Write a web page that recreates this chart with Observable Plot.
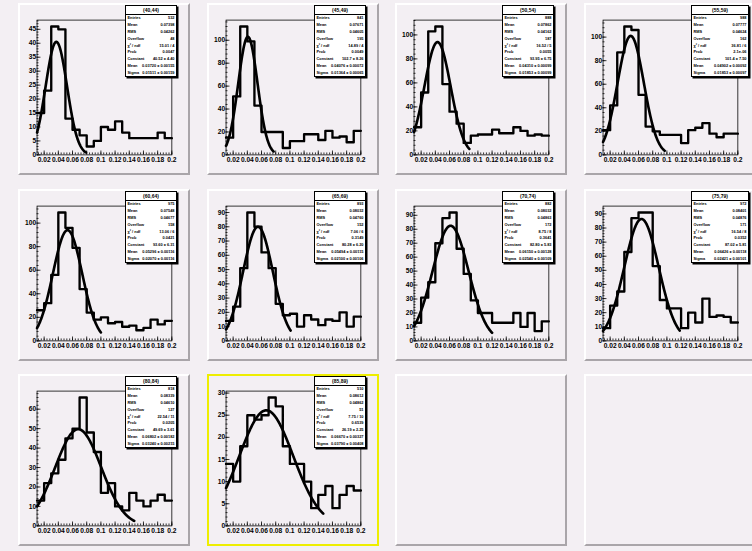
<!DOCTYPE html>
<html><head><meta charset="utf-8">
<script src="https://cdn.jsdelivr.net/npm/d3@7"></script>
<script src="https://cdn.jsdelivr.net/npm/@observablehq/plot@0.6"></script>
<style>
html,body{margin:0;padding:0;background:#f3eff3;}
#canvas{position:relative;width:752px;height:551px;overflow:hidden;background:#f3eff3;font-family:"Liberation Sans",Arial,sans-serif;}
.pad{position:absolute;width:172px;height:172px;box-sizing:border-box;border-top:2px solid #ffffff;border-left:2px solid #ffffff;border-right:2px solid #a9a5a9;border-bottom:2px solid #a9a5a9;background:#f3eff3;}
.pad.sel{border:2px solid #eeee00;}
.pad svg{position:absolute;left:-2px;top:-2px;overflow:visible;}
.stats{position:absolute;top:0;background:#fff;border:1px solid #000;box-shadow:1.5px 1.5px 0 #000;box-sizing:border-box;font-weight:bold;color:#000;}
.stats .t{height:8px;line-height:8px;text-align:center;font-size:5px;border-bottom:1px solid #000;}
.stats .r{display:flex;justify-content:space-between;height:6.9px;line-height:6.9px;font-size:3.9px;padding:0 1.5px;white-space:nowrap;}
</style></head>
<body><div id="canvas"></div>
<script>
// ---- data ----
const titles = ["(40,44)","(45,49)","(50,54)","(55,59)","(60,64)","(65,69)","(70,74)","(75,79)","(80,84)","(85,89)"];
const binLow = [0.01,0.02,0.03,0.04,0.05,0.06,0.07,0.08,0.09,0.10,0.11,0.12,0.13,0.14,0.15,0.16,0.17,0.18,0.19];
const xEnd = 0.2;
const c40 = [15,23,46,45,13,9,7,3,5,10,9,12,8,6,6,6,6,8,6];
const c45 = [15,51,112,99,43,20,20,20,6,12,12,18,18,13,21,15,16,11,21];
const c50 = [23,52,103,107,59,36,26,10,16,17,17,21,18,18,23,20,16,17,16];
const c55 = [21,42,87,109,106,51,24,20,17,17,17,10,21,23,27,18,15,18,18];
const c60 = [26,32,56,109,96,79,44,24,18,20,15,16,12,13,9,11,18,14,17];
const c65 = [14,24,51,90,80,62,51,26,18,19,10,18,15,11,15,14,20,10,17];
const c70 = [13,31,42,70,88,92,66,48,29,20,20,13,13,13,20,10,20,7,14];
const c75 = [9,25,35,63,87,91,91,53,29,23,23,9,20,13,30,17,18,17,13];
const c80 = [13,22,27,34,45,50,66,48,38,17,22,10,8,17,13,10,13,16,13];
const c85 = [14,10,18,25,24,25,29,27,18,14,14,10,4,7,9,4,7,9,8];
const counts = [c40,c45,c50,c55,c60,c65,c70,c75,c80,c85];
// Gaussian fit parameters: constant, mean, sigma, fit range end
const fitConst = [40.5,103,94,101,94,80,82.5,86.4,49.7,26.1];
const fitMean  = [0.0372,0.0408,0.0431,0.049,0.053,0.055,0.0615,0.0642,0.068,0.0667];
const fitSigma = [0.0151,0.0136,0.0185,0.0185,0.0207,0.021,0.0254,0.0242,0.0324,0.0379];
const fitHi    = [0.079,0.077,0.088,0.097,0.100,0.101,0.120,0.118,0.147,0.147];
// axis ticks
const xTicks = [0.02,0.04,0.06,0.08,0.1,0.12,0.14,0.16,0.18,0.2];
const yMajorStep = [5,20,20,20,20,10,10,10,10,5];
const yMinorStep = [1,4,4,4,4,2,2,2,2,1];
// stat box text
const stEntries = ["532","841","888","988","975","893","882","972","818","510"];
const stMean = ["0.07398","0.07671","0.07862","0.07777","0.07548","0.08032","0.08032","0.08401","0.08339","0.08612"];
const stRMS = ["0.04262","0.04605","0.04162","0.04624","0.04677","0.04760","0.04863","0.04876","0.04610","0.04862"];
const stOver = ["48","195","187","162","158","152","172","171","127","51"];
const stChi = ["15.01 / 4","14.89 / 4","16.52 / 5","36.81 / 6","13.06 / 6","7.06 / 6","8.75 / 8","16.54 / 8","22.54 / 11","7.75 / 10"];
const stProb = ["0.0047","0.0049","0.0055","2.1e-06","0.0421","0.3149","0.3641","0.0352","0.0205","0.6539"];
const stConst = ["40.52 ± 4.40","102.7 ± 8.26","93.95 ± 6.75","101.4 ± 7.50","93.60 ± 6.31","80.28 ± 6.20","82.80 ± 5.83","87.02 ± 5.81","49.69 ± 3.61","26.19 ± 2.25"];
const stFMean = ["0.03720 ± 0.00155","0.04076 ± 0.00072","0.04310 ± 0.00099","0.04902 ± 0.00092","0.05296 ± 0.00116","0.05494 ± 0.00115","0.06150 ± 0.00128","0.06426 ± 0.00118","0.06802 ± 0.00182","0.06670 ± 0.00327"];
const stSigma = ["0.01511 ± 0.00159","0.01364 ± 0.00065","0.01853 ± 0.00099","0.01853 ± 0.00097","0.02070 ± 0.00116","0.02100 ± 0.00106","0.02540 ± 0.00109","0.02421 ± 0.00101","0.03240 ± 0.00215","0.03790 ± 0.00408"];

// ---- layout ----
const canvas = document.getElementById("canvas");
const padLeft = c => Math.round(18 + 188.5 * c);
const padTop = r => Math.round(3 + 185.5 * r);
const fmtX = d => String(+d.toFixed(2));

function drawPlot(i) {
  const cnt = counts[i];
  const ymax = 1.05 * d3.max(cnt);
  const pts = binLow.map((x, j) => ({x, y: cnt[j]}));
  pts.push({x: xEnd, y: cnt[cnt.length - 1]});
  const fx = d3.range(binLow[0], fitHi[i], 0.0005).concat([fitHi[i]]);
  const curve = fx.map(x => ({x, y: fitConst[i] * Math.exp(-0.5 * ((x - fitMean[i]) / fitSigma[i]) ** 2)}));
  const major = d3.range(0, ymax, yMajorStep[i]);
  const minor = d3.range(0, ymax, yMinorStep[i]);
  const xMinor = d3.range(0, 51).map(k => 0.004 * k).filter(v => v >= binLow[0] && v <= xEnd + 1e-9);
  return Plot.plot({
    width: 172, height: 172,
    marginLeft: 19, marginRight: 15, marginTop: 17, marginBottom: 17,
    x: {domain: [binLow[0], xEnd]},
    y: {domain: [0, ymax]},
    style: {background: "transparent", fontFamily: "'Liberation Sans', Arial, sans-serif", fontSize: "6.8px", fontWeight: "bold", color: "#000", overflow: "visible"},
    marks: [
      Plot.frame({stroke: "#000", strokeWidth: 0.8}),
      Plot.axisX({ticks: xMinor, tickSize: -2, tickFormat: () => "", label: null, strokeWidth: 0.8}),
      Plot.axisX({ticks: xTicks, tickSize: -4, tickPadding: 6.5, tickFormat: fmtX, label: null, strokeWidth: 0.8}),
      Plot.axisY({ticks: minor, tickSize: -2, tickFormat: () => "", label: null, strokeWidth: 0.8}),
      Plot.axisY({ticks: major, tickSize: -4, tickPadding: 5, tickFormat: d => String(d), label: null, strokeWidth: 0.8}),
      Plot.line(pts, {x: "x", y: "y", curve: "step-after", stroke: "#000", strokeWidth: 2.4}),
      Plot.line(curve, {x: "x", y: "y", stroke: "#000", strokeWidth: 2.7})
    ]
  });
}

function statBox(i, col) {
  const box = document.createElement("div");
  box.className = "stats";
  box.style.left = "105px";
  box.style.width = (col === 3 ? 58 : 52) + "px";
  box.style.height = "72px";
  const rows = [
    ["Entries", stEntries[i]], ["Mean", stMean[i]], ["RMS", stRMS[i]], ["Overflow", stOver[i]],
    ["χ² / ndf", stChi[i]], ["Prob", stProb[i]], ["Constant", stConst[i]], ["Mean", stFMean[i]], ["Sigma", stSigma[i]]
  ];
  let html = `<div class="t">${titles[i]}</div>`;
  for (const [a, b] of rows) html += `<div class="r"><span>${a}</span><span>${b}</span></div>`;
  box.innerHTML = html;
  return box;
}

for (let p = 0; p < 12; p++) {
  const col = p % 4, row = Math.floor(p / 4);
  const pad = document.createElement("div");
  pad.className = "pad" + (p === 9 ? " sel" : "");
  pad.style.left = padLeft(col) + "px";
  pad.style.top = padTop(row) + "px";
  canvas.appendChild(pad);
  if (p < 10) {
    pad.appendChild(drawPlot(p));
    pad.appendChild(statBox(p, col));
  }
}
</script></body></html>
